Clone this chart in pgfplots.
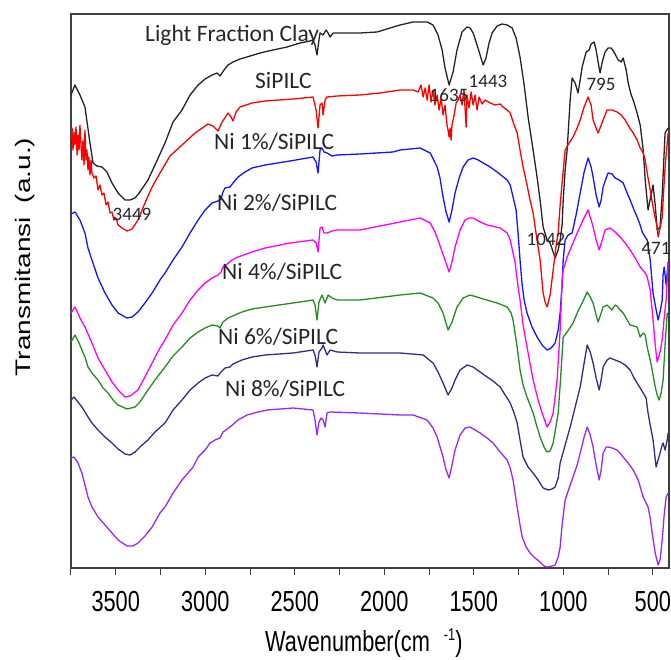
\documentclass[border=0pt]{standalone}
\usepackage{pgfplots}
\pgfplotsset{compat=1.18}
\usepackage{fontspec}
\setmainfont{Liberation Sans}
\newfontfamily\tickfont[FakeStretch=0.75]{Liberation Sans}
\newfontfamily\calfont{Carlito}
\definecolor{cblack}{RGB}{35,35,35}
\definecolor{cred}{RGB}{255,0,0}
\definecolor{cblue}{RGB}{20,20,255}
\definecolor{cmag}{RGB}{255,0,255}
\definecolor{cgreen}{RGB}{34,139,34}
\definecolor{cnavy}{RGB}{46,46,130}
\definecolor{cpurple}{RGB}{150,40,255}
\begin{document}
\begin{tikzpicture}[x=1pt,y=1pt]
\path[use as bounding box] (0,0) rectangle (671,660);
\begin{axis}[
  at={(71pt,92pt)}, anchor=south west,
  scale only axis, width=598pt, height=554pt,
  x dir=reverse, y dir=reverse,
  xmin=410, xmax=3750, ymin=14, ymax=568,
  ytick=\empty,
  xtick={500,1000,1500,2000,2500,3000,3500},
  minor xtick={750,1250,1750,2250,2750,3250,3750},
  tick align=outside, tick pos=bottom,
  major tick length=7pt, minor tick length=7pt,
  every tick/.style={black!75, line width=1pt},
  axis line style={black!75, line width=1.4pt},
  /pgf/number format/assume math mode=true,
  /pgf/number format/set thousands separator={},
  xticklabel style={font=\tickfont\fontsize{29}{29}\selectfont, anchor=base, yshift=-36pt},
  every axis plot/.append style={line width=1.3pt, line join=round},
  clip=true,
]
% Light Fraction Clay
\addplot[cblack] coordinates {
(3750,95)(3728,85)(3700,95)(3672,107)(3644,143)(3627,163)(3605,166)(3577,167)(3549,172)(3521,183)(3487,193)(3448,200)(3420,200)(3392,198)(3365,192)(3320,180)(3281,165)(3225,143)(3180,122)(3130,110)(3085,95)(3040,85)(3001,79)(2962,75)(2934,73)(2918,76)(2895,70)(2873,65)(2845,62)(2806,59)(2767,57)(2694,53)(2622,50)(2543,47)(2471,43)(2415,41)(2398,40)(2387,45)(2376,55)(2365,40)(2359,33)(2342,35)(2325,30)(2314,33)(2303,37)(2286,33)(2264,33)(2136,33)(2040,32)(1968,28)(1912,25)(1839,22)(1761,22)(1728,25)(1700,35)(1677,50)(1661,68)(1638,85)(1616,72)(1594,50)(1566,32)(1538,27)(1521,28)(1504,33)(1482,45)(1465,55)(1448,65)(1432,58)(1415,43)(1398,33)(1370,26)(1342,24)(1314,25)(1286,28)(1264,38)(1242,57)(1219,85)(1197,117)(1169,150)(1147,177)(1130,200)(1113,227)(1091,240)(1074,243)(1046,258)(1029,250)(1018,240)(1007,225)(1001,200)(990,170)(979,150)(962,100)(951,78)(934,83)(918,93)(906,80)(895,67)(873,52)(856,50)(845,44)(828,42)(817,50)(806,62)(795,73)(783,62)(767,52)(750,48)(733,48)(717,52)(694,60)(677,62)(666,58)(649,70)(638,83)(621,95)(610,100)(588,113)(571,125)(554,150)(543,180)(527,210)(510,195)(499,185)(487,205)(476,230)(460,227)(448,195)(432,133)(415,128)
};
% SiPILC
\addplot[cred] coordinates {
(3750,140)(3744,128)(3739,150)(3733,132)(3728,145)(3722,127)(3716,155)(3711,135)(3705,150)(3700,125)(3694,145)(3689,160)(3683,140)(3677,165)(3672,130)(3666,160)(3661,150)(3655,170)(3650,157)(3644,175)(3638,160)(3633,173)(3622,178)(3610,176)(3599,190)(3588,185)(3577,195)(3566,193)(3554,205)(3543,202)(3532,213)(3521,212)(3510,220)(3499,218)(3487,225)(3465,228)(3437,231)(3409,229)(3376,220)(3337,203)(3297,187)(3253,173)(3197,156)(3130,145)(3057,133)(2985,124)(2957,126)(2929,131)(2906,122)(2873,113)(2856,117)(2845,121)(2828,112)(2806,107)(2739,103)(2666,101)(2510,99)(2398,97)(2381,110)(2370,128)(2359,105)(2348,103)(2342,115)(2331,100)(2320,97)(2264,96)(2136,95)(2024,93)(1912,90)(1839,90)(1811,92)(1795,85)(1783,97)(1772,88)(1761,100)(1750,85)(1739,102)(1728,90)(1717,105)(1705,95)(1694,110)(1683,98)(1672,115)(1661,105)(1650,125)(1644,130)(1638,137)(1633,128)(1627,140)(1622,125)(1610,115)(1599,103)(1588,100)(1577,95)(1566,105)(1555,90)(1543,127)(1538,95)(1527,108)(1515,92)(1504,105)(1493,95)(1482,110)(1471,97)(1454,104)(1437,100)(1409,103)(1381,105)(1353,104)(1337,107)(1314,110)(1297,113)(1275,125)(1258,133)(1242,150)(1225,167)(1203,185)(1186,200)(1169,213)(1147,240)(1130,260)(1113,293)(1102,302)(1091,307)(1074,295)(1057,270)(1040,245)(1029,233)(1018,205)(1007,183)(990,150)(968,143)(946,137)(923,128)(906,120)(884,107)(862,97)(845,105)(834,120)(817,128)(806,133)(795,128)(778,120)(756,110)(728,110)(700,112)(677,115)(655,120)(633,127)(610,133)(588,140)(571,148)(554,153)(543,160)(532,173)(515,190)(499,207)(487,218)(476,227)(471,237)(460,228)(448,217)(432,167)(415,133)
};
% Ni 1%
\addplot[cblue] coordinates {
(3750,214)(3728,212)(3700,220)(3672,233)(3655,248)(3633,260)(3599,278)(3560,293)(3521,305)(3487,313)(3437,318)(3409,317)(3376,312)(3337,303)(3297,293)(3253,280)(3225,273)(3180,260)(3130,247)(3085,233)(3040,220)(3001,210)(2962,203)(2929,201)(2912,199)(2901,192)(2890,188)(2862,187)(2845,183)(2817,177)(2778,172)(2739,168)(2666,165)(2527,161)(2398,157)(2381,162)(2370,173)(2359,150)(2348,148)(2337,152)(2320,153)(2292,156)(2264,155)(2136,154)(1951,152)(1912,150)(1856,149)(1800,148)(1744,153)(1705,167)(1689,178)(1672,197)(1655,212)(1638,222)(1622,210)(1605,193)(1582,178)(1560,167)(1532,160)(1504,158)(1476,160)(1448,163)(1409,167)(1370,172)(1342,176)(1314,180)(1297,185)(1281,197)(1264,210)(1253,233)(1242,260)(1230,285)(1219,300)(1203,313)(1175,327)(1147,337)(1119,345)(1091,350)(1068,348)(1046,343)(1029,330)(1018,313)(1007,285)(1001,260)(990,240)(973,235)(951,233)(929,215)(906,193)(884,172)(862,158)(845,167)(834,177)(817,195)(800,207)(789,200)(778,187)(761,178)(750,173)(728,174)(711,178)(689,180)(666,183)(644,193)(627,200)(605,210)(588,217)(571,225)(560,232)(543,237)(532,240)(515,260)(499,293)(487,305)(471,320)(460,312)(448,300)(443,275)(437,267)(426,285)(415,262)
};
% Ni 2%
\addplot[cmag] coordinates {
(3750,313)(3728,307)(3700,318)(3672,327)(3633,343)(3599,358)(3560,370)(3521,382)(3487,390)(3448,397)(3420,396)(3376,390)(3337,377)(3297,363)(3253,348)(3225,340)(3180,325)(3130,313)(3085,300)(3040,290)(3001,283)(2962,278)(2929,275)(2912,272)(2901,267)(2884,265)(2851,260)(2817,257)(2739,252)(2666,248)(2527,243)(2398,240)(2381,243)(2370,252)(2359,228)(2348,227)(2337,233)(2320,233)(2292,231)(2264,230)(2136,230)(1912,222)(1800,218)(1744,223)(1717,232)(1700,240)(1677,252)(1661,260)(1638,272)(1622,262)(1605,247)(1577,230)(1549,220)(1527,218)(1504,218)(1465,222)(1426,225)(1353,228)(1314,233)(1297,240)(1281,253)(1270,262)(1253,287)(1242,300)(1225,325)(1203,347)(1169,380)(1141,400)(1119,413)(1091,427)(1074,422)(1057,413)(1035,380)(1018,330)(1007,280)(1001,270)(979,257)(951,245)(923,233)(890,220)(862,210)(845,220)(834,227)(817,240)(800,250)(783,240)(767,230)(739,228)(711,232)(683,237)(655,243)(627,250)(599,258)(571,267)(543,273)(532,277)(515,290)(499,320)(487,345)(476,362)(460,352)(448,340)(437,318)(426,300)(415,263)
};
% Ni 4%
\addplot[cgreen] coordinates {
(3750,342)(3728,335)(3705,343)(3689,350)(3672,357)(3655,367)(3633,373)(3599,380)(3571,388)(3543,393)(3515,400)(3487,405)(3437,409)(3392,407)(3365,402)(3320,390)(3281,380)(3225,367)(3180,356)(3130,347)(3085,338)(3040,332)(3001,328)(2962,325)(2929,326)(2918,328)(2901,322)(2873,318)(2834,315)(2795,312)(2739,309)(2666,307)(2510,303)(2398,300)(2387,305)(2376,320)(2365,302)(2348,295)(2331,303)(2314,295)(2292,298)(2264,300)(2136,300)(1912,295)(1800,293)(1728,298)(1700,303)(1672,313)(1644,330)(1622,322)(1594,307)(1560,298)(1521,295)(1465,298)(1409,301)(1370,303)(1314,307)(1292,313)(1281,320)(1258,347)(1242,370)(1225,385)(1203,397)(1169,413)(1147,427)(1130,437)(1108,447)(1091,452)(1074,451)(1057,443)(1040,425)(1029,413)(1018,385)(1007,355)(1001,337)(979,332)(946,323)(918,311)(895,303)(867,292)(850,297)(834,303)(817,315)(806,322)(789,313)(778,307)(756,305)(739,308)(728,310)(711,305)(700,306)(683,310)(666,313)(644,320)(627,325)(605,326)(588,327)(571,337)(554,333)(543,335)(532,347)(515,360)(504,370)(487,387)(476,395)(465,400)(454,393)(443,380)(432,345)(420,313)(415,317)
};
% Ni 6%
\addplot[cnavy] coordinates {
(3750,400)(3733,397)(3711,402)(3689,407)(3672,412)(3655,417)(3633,423)(3599,430)(3560,437)(3521,443)(3487,449)(3448,454)(3420,455)(3392,452)(3365,447)(3320,440)(3281,432)(3225,423)(3180,410)(3130,400)(3085,390)(3040,383)(3001,378)(2962,375)(2929,376)(2912,372)(2890,368)(2862,367)(2845,364)(2795,360)(2739,357)(2666,355)(2510,353)(2398,350)(2387,355)(2376,367)(2365,352)(2348,348)(2342,345)(2331,350)(2320,355)(2303,350)(2264,352)(2136,353)(1912,353)(1783,355)(1728,363)(1700,372)(1672,383)(1644,395)(1622,388)(1605,380)(1577,370)(1538,365)(1504,367)(1465,372)(1426,377)(1393,381)(1353,387)(1325,395)(1297,403)(1275,413)(1258,423)(1242,440)(1225,457)(1197,467)(1169,473)(1141,480)(1113,488)(1085,490)(1063,489)(1046,487)(1029,478)(1018,463)(990,445)(962,427)(934,407)(906,387)(884,363)(867,345)(850,352)(834,363)(817,378)(800,390)(789,380)(778,367)(756,360)(739,358)(711,360)(683,362)(655,365)(627,370)(605,378)(588,383)(571,388)(554,393)(538,398)(527,413)(515,425)(499,440)(482,467)(471,460)(460,453)(448,445)(443,443)(432,450)(420,440)(415,433)
};
% Ni 8%
\addplot[cpurple] coordinates {
(3750,458)(3733,457)(3711,463)(3689,473)(3672,485)(3655,497)(3633,507)(3599,517)(3560,525)(3521,533)(3487,540)(3437,546)(3404,546)(3376,543)(3337,536)(3297,527)(3253,513)(3225,507)(3180,493)(3130,480)(3068,467)(3040,457)(3001,450)(2973,443)(2946,440)(2918,438)(2901,432)(2862,427)(2817,420)(2767,415)(2705,412)(2655,410)(2510,408)(2398,410)(2387,420)(2376,435)(2365,422)(2353,418)(2342,420)(2331,427)(2320,413)(2303,412)(2136,413)(1912,415)(1839,415)(1761,420)(1728,428)(1705,437)(1672,457)(1655,470)(1638,478)(1622,465)(1605,450)(1577,435)(1549,428)(1521,427)(1493,430)(1465,433)(1426,438)(1393,443)(1353,452)(1314,460)(1297,468)(1281,480)(1258,507)(1242,525)(1230,537)(1208,547)(1186,553)(1158,558)(1130,562)(1108,566)(1091,567)(1063,566)(1046,565)(1029,557)(1018,547)(1007,525)(990,500)(962,485)(946,477)(923,465)(906,453)(884,437)(867,427)(850,435)(834,447)(817,465)(800,480)(789,470)(778,453)(761,447)(750,447)(728,448)(700,450)(666,457)(638,463)(610,470)(582,480)(554,497)(538,503)(527,507)(515,518)(504,533)(487,553)(471,565)(460,560)(448,540)(437,515)(426,497)(415,493)
};
\end{axis}
% curve labels
\begin{scope}[every node/.style={inner sep=0pt, font=\calfont\fontsize{23.5}{23.5}\selectfont, text=black!85}]
\node[anchor=base west] at (145,618) {Light Fraction Clay};
\node[anchor=base west] at (255,571) {SiPILC};
\node[anchor=base west] at (214,510) {Ni 1\%/SiPILC};
\node[anchor=base west] at (217,449) {Ni 2\%/SiPILC};
\node[anchor=base west] at (222,380) {Ni 4\%/SiPILC};
\node[anchor=base west] at (218,315) {Ni 6\%/SiPILC};
\node[anchor=base west] at (225,263) {Ni 8\%/SiPILC};
\end{scope}
% peak labels
\begin{scope}[every node/.style={inner sep=0pt, font=\calfont\fontsize{19}{19}\selectfont, text=black!85}]
\node at (132,446) {3449};
\node at (449,565) {1635};
\node at (488,579) {1443};
\node at (601,576) {795};
\node at (546,421) {1042};
\node at (656,412) {471};
\end{scope}
% axis titles
\node[anchor=base west, inner sep=0pt, font=\tickfont\fontsize{29}{29}\selectfont] at (265,8) {Wavenumber(cm\hspace{14pt}\raisebox{11pt}{\fontsize{17}{17}\selectfont -1})};
\node[rotate=90, inner sep=0pt] at (25,403) {\scalebox{1}[0.75]{\fontsize{28}{28}\selectfont Transmitansi\hspace{14pt}(a.u.)}};
\end{tikzpicture}
\end{document}
